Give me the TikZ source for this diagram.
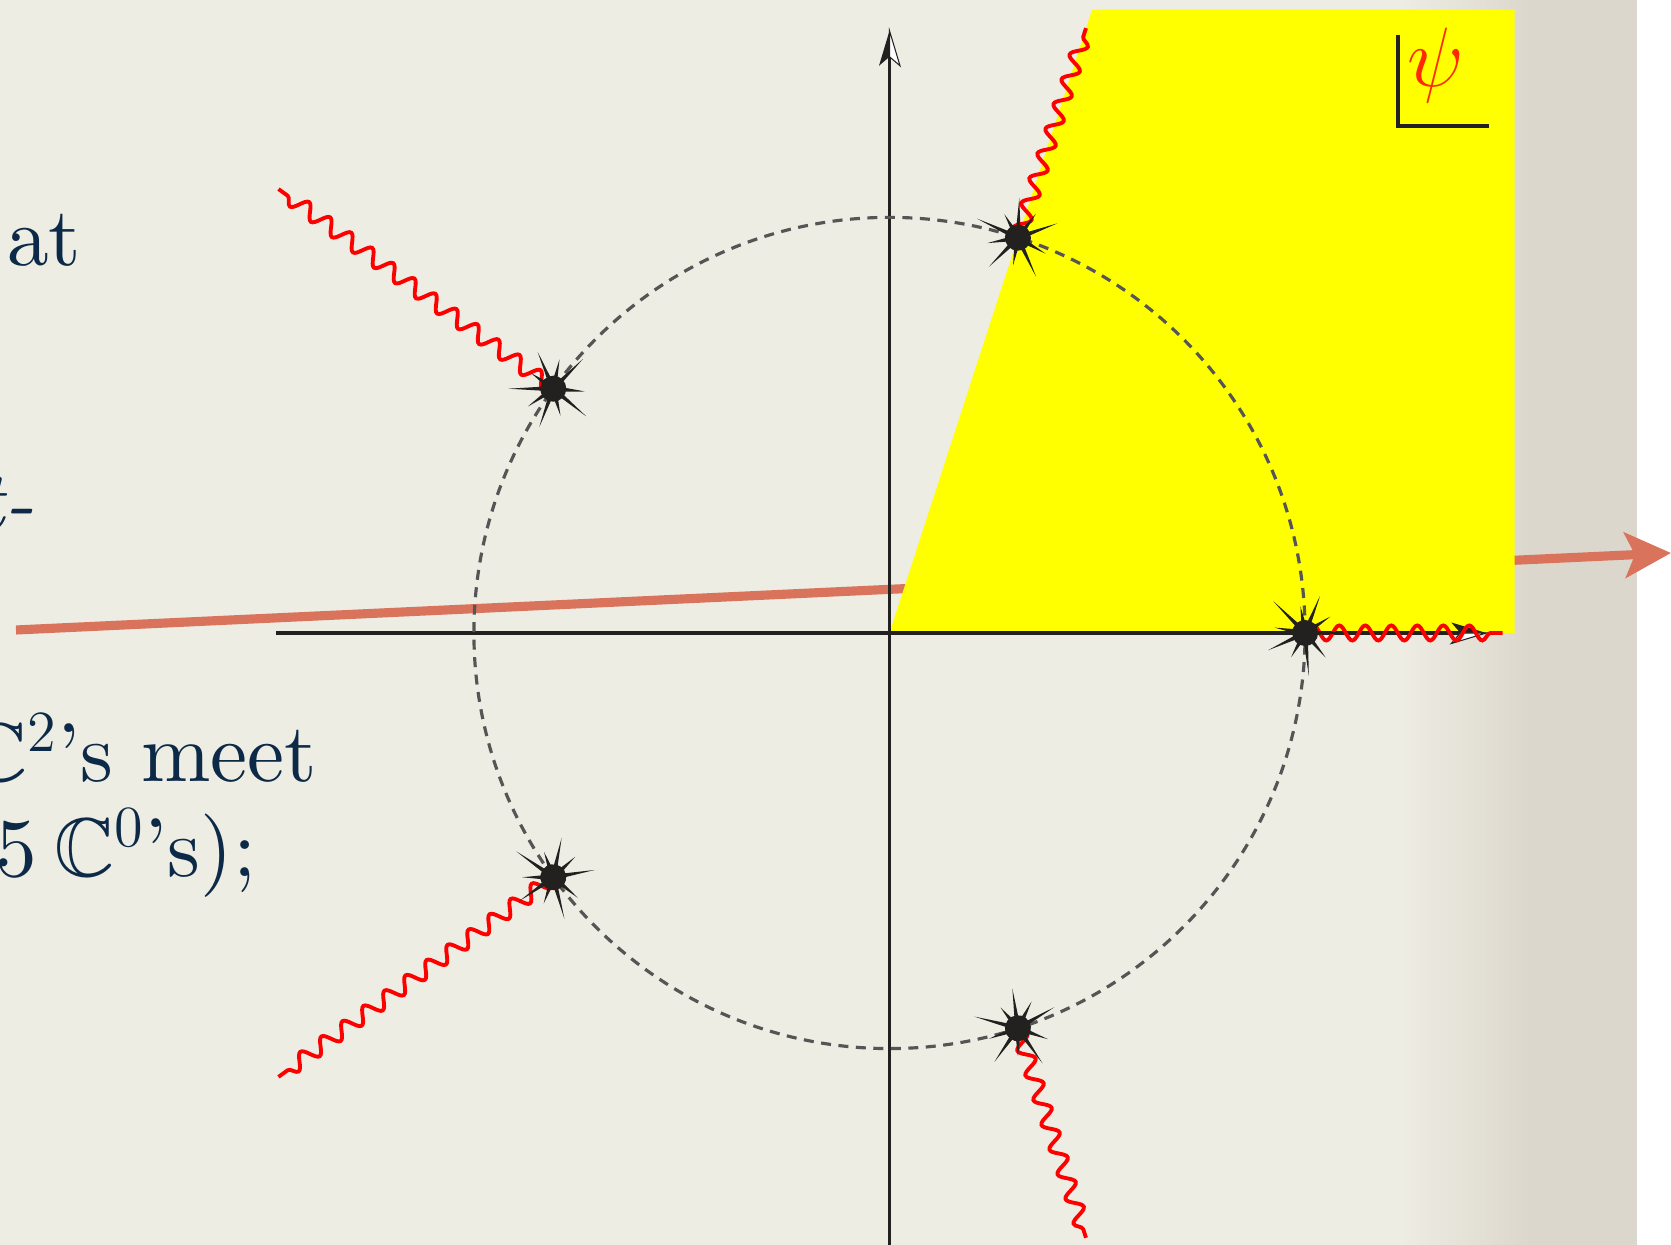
\RequirePackage{fix-cm}
\documentclass[tikz,border=0pt]{standalone}
\usepackage{amssymb}
\usepackage{fontspec}
\setmainfont{lmroman10-regular.otf}[ItalicFont=lmroman10-italic.otf]
\usetikzlibrary{arrows.meta,decorations.pathmorphing}

\definecolor{paper}{RGB}{238,237,227}
\definecolor{paperdark}{RGB}{220,215,205}
\definecolor{inkblue}{RGB}{12,42,72}
\definecolor{salmon}{RGB}{217,115,92}
\definecolor{psired}{RGB}{255,40,0}
\definecolor{hiyellow}{RGB}{255,255,0}
\definecolor{axcol}{RGB}{35,32,32}
\definecolor{dashgray}{RGB}{85,85,85}

% half black, half white axis tip
\newcommand{\axtip}[2]{%
  \begin{scope}[shift={(#1)}, rotate=#2]
    \fill[axcol] (0,0) -- (-0.35,0.105) -- (-0.26,0) -- cycle;
    \filldraw[fill=white, draw=axcol, line width=0.3pt] (0,0) -- (-0.35,-0.105) -- (-0.26,0) -- cycle;
  \end{scope}}

\tikzset{
  slidetext/.style={anchor=base east, inner sep=0pt, text=inkblue, font=\fontsize{23.7}{28}\selectfont},
  axis/.style={axcol, line width=0.9pt},
  circ/.style={dashgray, line width=0.9pt, dash pattern=on 0.1cm off 0.075cm},
  wave/.style={red, line width=1.1pt, decorate, decoration={snake, amplitude=0.075cm, segment length=0.26cm}},
  burst/.pic={
    \fill[axcol] (0,0) circle (0.13);
    \foreach \a/\l in {0/0.42,33/0.30,68/0.40,100/0.27,135/0.45,170/0.31,205/0.41,240/0.28,275/0.43,310/0.32}
      \fill[axcol] (\a+12:0.1) -- (\a:\l) -- (\a-12:0.1) -- cycle;
  }
}

\begin{document}
\begin{tikzpicture}
  \useasboundingbox (0,0) rectangle (16.71,12.45);
  \clip (0,0) rectangle (16.71,12.45);

  % paper
  \fill[paper] (0,0) rectangle (16.71,12.45);
  \shade[left color=paper, right color=paperdark] (14.0,0) rectangle (15.3,12.45);
  \fill[paperdark] (15.3,0) rectangle (16.37,12.45);
  \fill[white] (16.37,0) rectangle (16.71,12.45);

  % slide text, cut at the left edge
  \node[slidetext] (at) at (0.82,9.79) {at};
  \node[slidetext] (tdash) at (0.35,7.15) {\textit{t-}};
  \node[slidetext] (meet) at (3.18,4.63) {$\mathbb{C}^2$'s meet};
  \node[slidetext] (czero) at (2.57,3.68) {5\kern0.2em$\mathbb{C}^0$'s);};

  % red arrow
  \coordinate (rs) at (0.16,6.15);
  \coordinate (re) at (16.71,6.92);
  \draw[salmon, line width=2.6pt, -{Stealth[length=0.46cm,width=0.45cm,inset=0.1cm]}] (rs) -- (re);

  \begin{scope}[shift={(8.895,6.12)}, scale=4.156]
    \coordinate (O) at (0,0);
    \coordinate (xtip) at (1.436,0);
    \coordinate (ytip) at (0,1.449);
    \fill[hiyellow] (O) -- (0.4874,1.5) -- (1.504,1.5) -- (1.504,0) -- cycle;
    \draw[axis] (-1.475,0) -- (1.38,0);
    \draw[axis] (0,-1.48) -- (0,1.39);
  \end{scope}
  \axtip{xtip}{0}
  \axtip{ytip}{90}

  \begin{scope}[shift={(8.895,6.12)}, scale=4.156]
    \draw[circ] (O) circle (1);
    \foreach \i/\a/\r in {1/0/1.475, 2/72/1.53, 3/144/1.817, 4/216/1.817, 5/288/1.53} {
      \coordinate (p\i) at (\a:1);
      \coordinate (w\i) at (\a:\r);
      \draw[wave] (p\i) -- (w\i);
    }
  \end{scope}

  % singular points
  \foreach \i/\t in {1/0,2/20,3/45,4/10,5/30}
    \pic[rotate=\t] at (p\i) {burst};

  % psi corner
  \node[text=psired, inner sep=0pt, font=\fontsize{24}{25}\selectfont] (psi) at (14.36,11.80) {$\psi$};
  \draw[axis] (13.98,12.10) -- (13.98,11.19) -- (14.89,11.19);
\end{tikzpicture}
\end{document}
